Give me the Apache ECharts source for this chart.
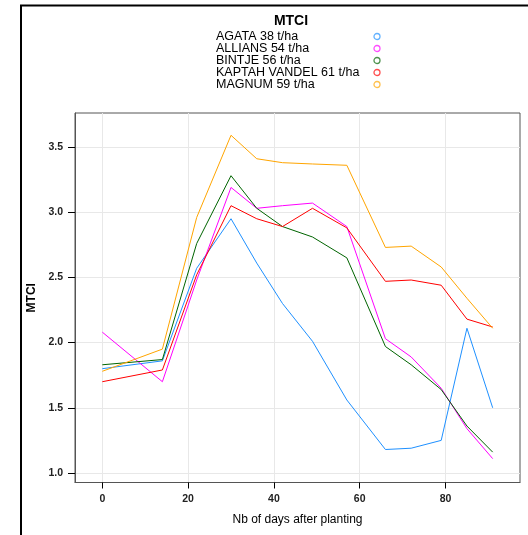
<!DOCTYPE html>
<html>
<head>
<meta charset="utf-8">
<script src="https://cdn.jsdelivr.net/npm/echarts@6/dist/echarts.min.js"></script>
<style>
  html, body { margin: 0; padding: 0; background: #fff; }
  #main { width: 528px; height: 535px; }
</style>
</head>
<body>
<div id="main"></div>
<script>
// days after planting (x)
var days = [0, 14, 22, 30, 36, 42, 49, 57, 66, 72, 79, 85, 91];

var seriesNames = ["AGATA 38 t/ha", "ALLIANS 54 t/ha", "BINTJE 56 t/ha", "KAPTAH VANDEL 61 t/ha", "MAGNUM 59 t/ha"];
var agata   = [1.80, 1.86, 2.57, 2.95, 2.61, 2.30, 2.01, 1.56, 1.18, 1.19, 1.25, 2.11, 1.50];
var allians = [2.08, 1.70, 2.48, 3.19, 3.03, 3.05, 3.07, 2.89, 2.03, 1.89, 1.65, 1.34, 1.11];
var bintje  = [1.83, 1.87, 2.76, 3.28, 3.03, 2.89, 2.81, 2.65, 1.97, 1.83, 1.64, 1.36, 1.16];
var kaptah  = [1.70, 1.79, 2.52, 3.05, 2.95, 2.89, 3.03, 2.88, 2.47, 2.48, 2.44, 2.18, 2.12];
var magnum  = [1.78, 1.95, 2.96, 3.59, 3.41, 3.38, 3.37, 3.36, 2.73, 2.74, 2.58, 2.34, 2.11];
var colors  = ["#1e90ff", "#ff00ff", "#006400", "#ff0000", "#ffa500"];

var xTicks = [0, 20, 40, 60, 80];
var yTicks = [1.0, 1.5, 2.0, 2.5, 3.0, 3.5];

var allValues = [agata, allians, bintje, kaptah, magnum];

function pairs(vals) {
  return days.map(function (d, i) { return [d, vals[i]]; });
}

var chartDom = document.getElementById("main");
var myChart = echarts.init(chartDom, null, { renderer: "canvas" });
var option;

option = {
  animation: false,
  backgroundColor: "#fff",
  textStyle: { fontFamily: "Liberation Sans, Arial, sans-serif" },
  title: {
    text: "MTCI",
    left: 286,
    top: 9,
    textAlign: "center",
    textStyle: { fontSize: 14, fontWeight: "bold", color: "#000" },
  },
  legend: {
    orient: "vertical",
    left: 211,
    top: 25,
    align: "right",
    itemGap: -1,
    itemWidth: 6,
    itemHeight: 6,
    icon: "circle",
    formatter: function (name) { return "{a|" + name + "}"; },
    textStyle: {
      color: "#000",
      lineHeight: 12,
      rich: { a: { width: 153, align: "left", fontSize: 12.5, lineHeight: 12, color: "#000" } },
    },
    data: seriesNames.map(function (name, i) {
      return {
        name: name,
        icon: "circle",
        itemStyle: { color: "#fff", borderColor: colors[i], borderWidth: 1.3, opacity: 0.7 },
      };
    }),
  },
  graphic: [
    {
      type: "polyline",
      shape: { points: [[21, 535], [21, 5.5], [528, 5.5]] },
      style: { stroke: "#000", lineWidth: 2, fill: null },
    },
  ],
  grid: {
    left: 75,
    top: 113,
    right: 8,
    bottom: 52.5,
    show: true,
    borderColor: "#555",
    borderWidth: 1,
  },
  xAxis: {
    type: "value",
    min: -6.37,
    max: 97.37,
    name: "Nb of days after planting",
    nameLocation: "middle",
    nameGap: 31,
    nameTextStyle: { fontSize: 12, color: "#000" },
    axisLine: { show: true, onZero: false, lineStyle: { color: "#555", width: 1 } },
    axisTick: { show: true, length: 6, customValues: xTicks, lineStyle: { color: "#000" } },
    axisLabel: { customValues: xTicks, margin: 11, fontSize: 10.5, fontWeight: "bold", color: "#222" },
    splitLine: { show: true, lineStyle: { color: "#e8e8e8", width: 1 } },
  },
  yAxis: {
    type: "value",
    min: 0.927,
    max: 3.761,
    name: "MTCI",
    nameLocation: "middle",
    nameGap: 36,
    nameRotate: 90,
    nameTextStyle: { fontSize: 12, fontWeight: "bold", color: "#000" },
    axisLine: { show: true, onZero: false, lineStyle: { color: "#555", width: 1 } },
    axisTick: { show: true, length: 7, customValues: yTicks, lineStyle: { color: "#000" } },
    axisLabel: {
      customValues: yTicks,
      margin: 12,
      fontSize: 10.5,
      fontWeight: "bold",
      color: "#222",
      formatter: function (v) { return v.toFixed(1); },
    },
    splitLine: { show: true, lineStyle: { color: "#e8e8e8", width: 1 } },
  },
  series: seriesNames.map(function (name, i) {
    return {
      name: name,
      type: "line",
      showSymbol: false,
      color: colors[i],
      lineStyle: { width: 1, color: colors[i] },
      data: pairs(allValues[i]),
    };
  }),
};

option && myChart.setOption(option);
</script>
</body>
</html>
